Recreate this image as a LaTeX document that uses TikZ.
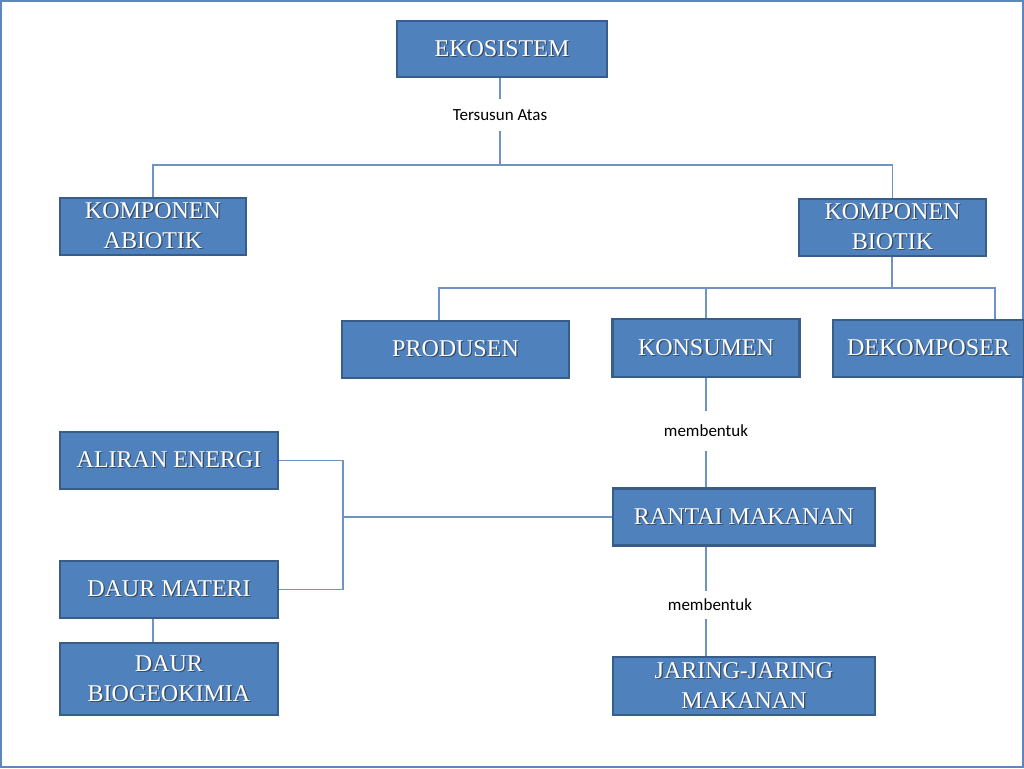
\documentclass[tikz,border=0pt]{standalone}
\usepackage{fontspec}
\setmainfont{Liberation Serif}
\newfontfamily\lblfont{Carlito}
\definecolor{boxfill}{HTML}{4F81BD}
\definecolor{boxline}{HTML}{385D8A}
\definecolor{conn}{HTML}{6F93C4}
\definecolor{frame}{HTML}{5C86C0}
\definecolor{shadowc}{HTML}{3A4A5E}
\newcommand\shtxt[1]{\leavevmode\rlap{\kern1.3pt\raisebox{-1.3pt}{\textcolor{shadowc}{#1}}}#1}
\tikzset{
  boxnode/.style={draw=boxline, line width=2.4pt, fill=boxfill, text=white, inner sep=0pt,
    align=center, font=\fontsize{24}{30}\selectfont, minimum width=#1},
  lblnode/.style={inner sep=0pt, minimum height=32pt, font=\lblfont\fontsize{17}{19}\selectfont, text=black},
  connline/.style={draw=conn, line width=1.3pt}
}
\begin{document}
\begin{tikzpicture}[x=1pt,y=-1pt]
\useasboundingbox (0,0) rectangle (1024,768);
\fill[white] (0,0) rectangle (1024,768);
\draw[frame, line width=1.6pt] (1,1) rectangle (1023,767);

% boxes
\node[boxnode=210pt, minimum height=56pt] (eko) at (502,49) {\shtxt{EKOSISTEM}};
\node[boxnode=186pt, minimum height=57pt] (abio) at (153,226.5) {\shtxt{KOMPONEN}\\\shtxt{ABIOTIK}};
\node[boxnode=187pt, minimum height=57pt] (bio) at (892.5,227.5) {\shtxt{KOMPONEN}\\\shtxt{BIOTIK}};
\node[boxnode=227pt, minimum height=57pt] (prod) at (455.5,349.5) {\shtxt{PRODUSEN}};
\node[boxnode=187pt, minimum height=58pt] (kons) at (706,348) {\shtxt{KONSUMEN}};
\node[boxnode=191pt, minimum height=57pt] (deko) at (928.5,348.5) {\shtxt{DEKOMPOSER}};
\node[boxnode=262pt, minimum height=57pt] (rantai) at (744,517) {\shtxt{RANTAI MAKANAN}};
\node[boxnode=262pt, minimum height=58pt] (jaring) at (744,686) {\shtxt{JARING-JARING}\\\shtxt{MAKANAN}};
\node[boxnode=218pt, minimum height=57pt] (aliran) at (169,460.5) {\shtxt{ALIRAN ENERGI}};
\node[boxnode=218pt, minimum height=57pt] (daur) at (169,589.5) {\shtxt{DAUR MATERI}};
\node[boxnode=218pt, minimum height=72pt] (bgk) at (169,679) {\shtxt{DAUR}\\\shtxt{BIOGEOKIMIA}};

% labels
\node[lblnode] (l1) at (500,115) {Tersusun Atas};
\node[lblnode, minimum height=40pt] (l2) at (706,431) {membentuk};
\node[lblnode, minimum height=28pt] (l3) at (710,605) {membentuk};

% junctions
\coordinate (j1) at (500,165);
\coordinate (j2) at (892,288);
\coordinate (j3) at (343,517);

% connectors
\draw[connline] (eko.south -| j1) -- (l1.north);
\draw[connline] (l1.south) -- (j1);
\draw[connline] (abio.north) |- (j1) -| (bio.north);
\draw[connline] (bio.south -| j2) -- (j2);
\draw[connline] ([xshift=-16.5pt]prod.north) |- (j2) -| ([xshift=66.5pt]deko.north);
\draw[connline] (kons.north) -- (kons.north |- j2);
\draw[connline] (kons.south) -- (l2.north);
\draw[connline] (l2.south) -- (l2.south |- rantai.north);
\draw[connline] (rantai.south -| l2.south) -- (l3.north -| l2.south);
\draw[connline] (l3.south -| l2.south) -- (jaring.north -| l2.south);
\draw[connline] (rantai.west) -- (j3);
\draw[connline] (aliran.east) -| (j3) |- (daur.east);
\draw[connline] (daur.south -| abio.south) -- (bgk.north -| abio.south);
\end{tikzpicture}
\end{document}
